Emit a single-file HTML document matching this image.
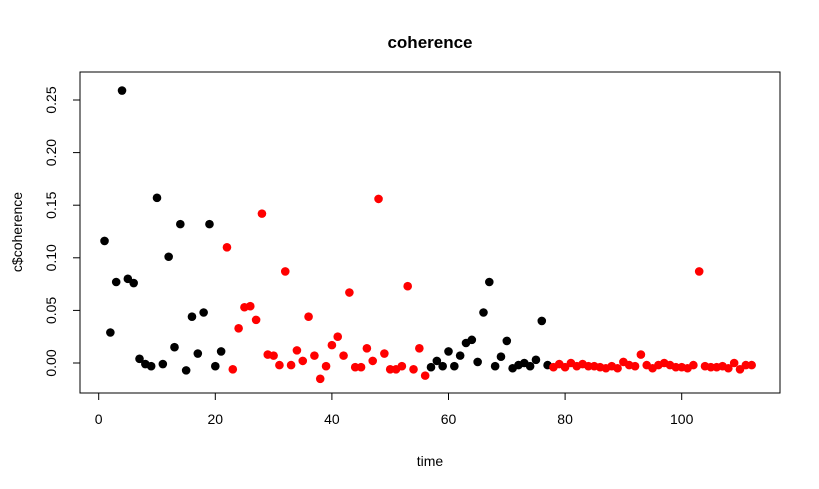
<!DOCTYPE html>
<html><head><meta charset="utf-8"><style>body{margin:0;background:#fff}svg{display:block;font-family:"Liberation Sans",Arial,sans-serif}</style></head>
<body>
<svg id="chart" width="819" height="489">
<text x="430" y="48" text-anchor="middle" font-size="17" font-weight="bold">coherence</text>
<rect x="80" y="72" width="700" height="321" fill="none" stroke="#000" stroke-width="1"/>
<text x="430" y="466" text-anchor="middle" font-size="14">time</text>
<text transform="translate(22,232) rotate(-90)" text-anchor="middle" font-size="14">c$coherence</text>
<g id="axes"></g><g id="points"></g>
</svg>
<script>
const xTicks=[0,20,40,60,80,100];
const yTicks=[0,0.05,0.10,0.15,0.20,0.25];
const yTickLabels=["0.00","0.05","0.10","0.15","0.20","0.25"];
const values=[0.116,0.029,0.077,0.259,0.080,0.076,0.004,-0.001,-0.003,0.157,-0.001,0.101,0.015,0.132,-0.007,0.044,0.009,0.048,0.132,-0.003,0.011,
0.110,-0.006,0.033,0.053,0.054,0.041,0.142,0.008,0.007,-0.002,0.087,-0.002,0.012,0.002,0.044,0.007,-0.015,-0.003,0.017,0.025,0.007,0.067,-0.004,-0.004,0.014,0.002,0.156,0.009,-0.006,-0.006,-0.003,0.073,-0.006,0.014,-0.012,
-0.004,0.002,-0.003,0.011,-0.003,0.007,0.019,0.022,0.001,0.048,0.077,-0.003,0.006,0.021,-0.005,-0.002,0.000,-0.003,0.003,0.040,-0.002,
-0.004,-0.001,-0.004,0.000,-0.003,-0.001,-0.003,-0.003,-0.004,-0.005,-0.003,-0.005,0.001,-0.002,-0.003,0.008,-0.002,-0.005,-0.002,0.000,-0.002,-0.004,-0.004,-0.005,-0.002,0.087,-0.003,-0.004,-0.004,-0.003,-0.005,0.000,-0.006,-0.002,-0.002];
const redRanges=[[22,56],[78,112]];
const NS="http://www.w3.org/2000/svg";
const X=t=>98.7+t*5.83, Y=v=>363-v*1052;
const ax=document.getElementById('axes'), pts=document.getElementById('points');
function mk(tag,attrs,parent){const e=document.createElementNS(NS,tag);for(const k in attrs)e.setAttribute(k,attrs[k]);parent.appendChild(e);return e;}
mk('line',{x1:X(0),x2:X(100),y1:393,y2:393,stroke:'#000'},ax);
xTicks.forEach(t=>{mk('line',{x1:X(t),x2:X(t),y1:393,y2:400,stroke:'#000'},ax);
const tx=mk('text',{x:X(t),y:424,'text-anchor':'middle','font-size':14},ax);tx.textContent=t;

});
mk('line',{x1:80,x2:80,y1:Y(0),y2:Y(0.25),stroke:'#000'},ax);
yTicks.forEach((v,i)=>{mk('line',{x1:73,x2:80,y1:Y(v),y2:Y(v),stroke:'#000'},ax);
const tx=mk('text',{transform:`translate(56,${Y(v)}) rotate(-90)`,'text-anchor':'middle','font-size':14},ax);tx.textContent=yTickLabels[i];

});
values.forEach((v,i)=>{const t=i+1;const red=redRanges.some(r=>t>=r[0]&&t<=r[1]);
const c=mk('circle',{cx:X(t),cy:Y(v),r:4.3,fill:red?'#ff0000':'#000'},pts);

});
</script>
</body></html>
